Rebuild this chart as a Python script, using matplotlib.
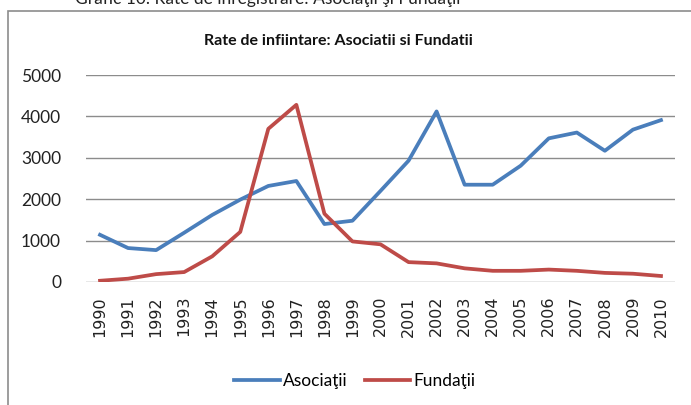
import matplotlib
matplotlib.use("Agg")
import matplotlib.pyplot as plt
from matplotlib.patches import Rectangle

years = [str(y) for y in range(1990, 2011)]
asociatii = [1140, 820, 770, 1190, 1620, 1990, 2320, 2440, 1400, 1480, 2200, 2930,
             4120, 2350, 2350, 2810, 3470, 3610, 3170, 3680, 3910]
fundatii = [30, 80, 190, 240, 620, 1210, 3700, 4280, 1650, 980, 910, 480,
            450, 330, 270, 270, 300, 270, 220, 200, 145]
yticks = [0, 1000, 2000, 3000, 4000, 5000]

FONT = ["Lato", "DejaVu Sans"]
plt.rcParams["font.family"] = FONT

fig = plt.figure(figsize=(6.91, 4.05), dpi=100)
W, H = 691, 405

# outer chart border
fig.patches.append(Rectangle((8 / W, -0.2), 1.0, 1.2 - 11 / H, transform=fig.transFigure,
                             fill=False, edgecolor="#8c8c8c", linewidth=1.2))
# cropped caption above the chart
fig.text(75 / W, 1 + 1 / H, "Grafic 10. Rate de înregistrare: Asociaţii şi Fundaţii",
         ha="left", va="center", fontsize=12.5, color="#222222")

ax = fig.add_axes([86 / W, 1 - 282 / H, (675 - 86) / W, (282 - 75) / H])
x = list(range(len(years)))
ax.plot(x, asociatii, color="#4A7EBB", linewidth=2.7, label="Asociaţii", solid_joinstyle="round")
ax.plot(x, fundatii, color="#BE4B48", linewidth=2.7, label="Fundaţii", solid_joinstyle="round")

ax.set_xlim(-0.5, len(years) - 0.5)
ax.set_ylim(0, 5000)
ax.set_yticks(yticks)
ax.set_yticklabels([str(v) for v in yticks], fontsize=12.5)
ax.set_xticks(x)
ax.set_xticklabels(years, rotation=90, fontsize=11.5, family=["DejaVu Sans"])
ax.tick_params(axis="both", length=0, colors="#222222")
ax.tick_params(axis="y", pad=18)
ax.tick_params(axis="x", pad=10)
ax.grid(axis="y", color="#8c8c8c", linewidth=1)
ax.set_axisbelow(True)
for s in ax.spines.values():
    s.set_visible(False)

fig.text(338 / W, 1 - 41 / H, "Rate de infiintare: Asociatii si Fundatii",
         ha="center", va="center", fontsize=11.5, fontweight="bold", color="#111111")

leg = fig.legend(loc="center", bbox_to_anchor=(355 / W, 1 - 381 / H), ncol=2, frameon=False,
                 fontsize=12.5, handlelength=2.6, handletextpad=0.2, columnspacing=1.0)

fig.savefig("out.png", dpi=100)
